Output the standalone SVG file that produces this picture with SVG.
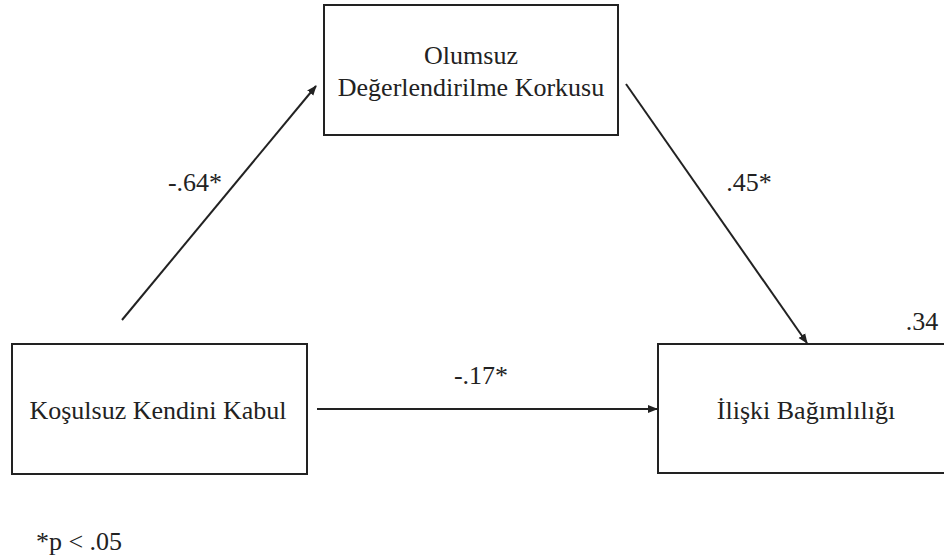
<svg xmlns="http://www.w3.org/2000/svg" width="944" height="555" viewBox="0 0 944 555">
<style>
.box{fill:#fff;stroke:#222;stroke-width:2}
.t{font-family:"Liberation Serif","Times New Roman",serif;font-size:26px;fill:#222;text-anchor:middle}
.c{stroke:#222;stroke-width:2;fill:none;marker-end:url(#ah)}
</style>
<defs>
<marker id="ah" viewBox="0 0 10 10" refX="9" refY="5" markerWidth="5" markerHeight="5" orient="auto" markerUnits="strokeWidth">
<path d="M0,1 L10,5 L0,9 z" fill="#222"/>
</marker>
</defs>
<rect width="944" height="555" fill="#fff"/>
<g id="node-olumsuz">
<rect class="box" x="324" y="5" width="294" height="130"/>
<text class="t" x="471" y="64">Olumsuz</text>
<text class="t" x="471" y="96">Değerlendirilme Korkusu</text>
</g>
<g id="node-kosulsuz">
<rect class="box" x="12" y="344" width="295" height="130"/>
<text class="t" x="158" y="419">Koşulsuz Kendini Kabul</text>
</g>
<g id="node-iliski">
<rect class="box" x="658" y="344" width="300" height="129"/>
<text class="t" x="806" y="419">İlişki Bağımlılığı</text>
<text class="t" x="922" y="330">.34</text>
</g>
<g id="connectors">
<line class="c" x1="122" y1="320" x2="316" y2="86"/>
<line class="c" x1="626" y1="84" x2="807" y2="343"/>
<line class="c" x1="317" y1="409" x2="657" y2="409"/>
<text class="t" x="195" y="191">-.64*</text>
<text class="t" x="749" y="191">.45*</text>
<text class="t" x="481" y="384">-.17*</text>
</g>
<text class="t" x="79" y="550">*p &lt; .05</text>
</svg>
